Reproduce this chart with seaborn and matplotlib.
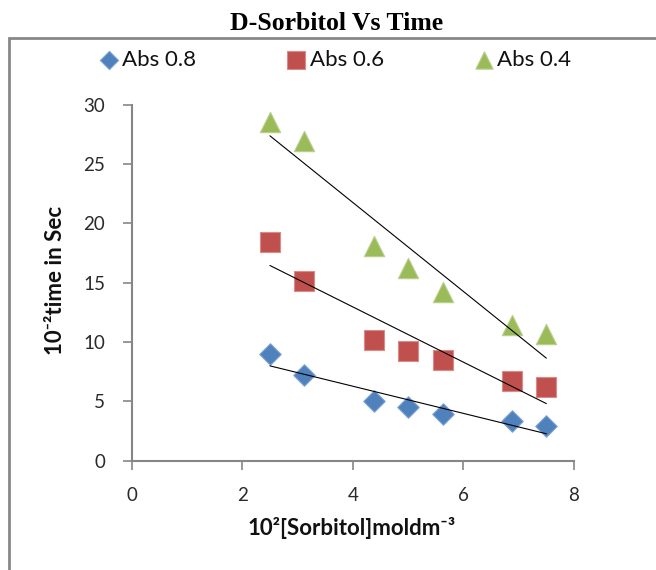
import numpy as np
import pandas as pd
import matplotlib
matplotlib.use("Agg")
import matplotlib.pyplot as plt
import matplotlib.patches as patches
import seaborn as sns

# ---- data ----
conc = [2.5, 3.125, 4.375, 5.0, 5.625, 6.875, 7.5]
abs08 = [9.0, 7.2, 5.0, 4.5, 3.9, 3.3, 2.9]
abs06 = [18.4, 15.1, 10.15, 9.25, 8.5, 6.7, 6.2]
abs04 = [28.5, 26.9, 18.1, 16.2, 14.2, 11.4, 10.65]
series_names = ["Abs 0.8", "Abs 0.6", "Abs 0.4"]
x_ticks = [0, 2, 4, 6, 8]
y_ticks = [0, 5, 10, 15, 20, 25, 30]

sns.set_theme(style="white")
SANS = ["Lato", "DejaVu Sans"]
plt.rcParams["font.family"] = SANS

fig = plt.figure(figsize=(6.56, 5.70), dpi=100)
W, H = 656, 570
ax = fig.add_axes([131.7 / W, 1 - 460.5 / H, (574 - 131.7) / W, (460.5 - 104.5) / H])

colors = ["#4F81BD", "#C0504D", "#9BBB59"]
edges = ["#7EA3D3", "#D98B89", "#B8D08E"]
markers = ["D", "s", "^"]
sizes = [120, 215, 215]

for name, vals, c, ec, m, s in zip(series_names, [abs08, abs06, abs04], colors, edges, markers, sizes):
    df = pd.DataFrame({"conc": conc, "time": vals})
    sns.scatterplot(data=df, x="conc", y="time", ax=ax, marker=m, s=s,
                    color=c, edgecolor=ec, linewidth=0.8, label=name, legend=False, zorder=3)
    sns.regplot(data=df, x="conc", y="time", ax=ax, scatter=False, ci=None,
                truncate=True, line_kws={"color": "black", "lw": 0.8, "zorder": 4})

ax.set_xlim(0, 8)
ax.set_ylim(0, 30)
ax.set_xticks(x_ticks)
ax.set_yticks(y_ticks)
ax.set_xlabel("")
ax.set_ylabel("")
for sp in ["top", "right"]:
    ax.spines[sp].set_visible(False)
for sp in ["left", "bottom"]:
    ax.spines[sp].set_color("#868686")
    ax.spines[sp].set_linewidth(1.5)
ax.tick_params(axis="both", which="major", direction="out", length=6.5, width=1.2,
               color="#868686", labelsize=13.5, labelcolor="#2a2a2a", pad=12.5)
ax.tick_params(axis="x", bottom=True)
ax.tick_params(axis="y", left=True)
ax.grid(False)

# axis labels
fig.text(56 / W, 1 - 280 / H, "10⁻²time in Sec", rotation=90, ha="center", va="center",
         fontsize=16, fontweight="bold", color="#111111", family=SANS)
fig.text(352 / W, 1 - 528 / H, "10²[Sorbitol]moldm⁻³", ha="center", va="center",
         fontsize=16, fontweight="bold", color="#111111", family=SANS)

# title
fig.text(337 / W, 1 - 24 / H, "D-Sorbitol Vs Time", ha="center", va="center",
         fontsize=18.5, fontweight="bold", family="Liberation Serif", color="black")

# outer chart frame (clipped on right and bottom as in the reference)
frame = patches.Rectangle((8.5 / W, -0.2), 2.0, (570 - 38) / H + 0.2,
                          transform=fig.transFigure, fill=False,
                          edgecolor="#878787", linewidth=2.0)
fig.patches.append(frame)

# legend
handles, labels = ax.get_legend_handles_labels()
leg = fig.legend(handles, labels, loc="center left", bbox_to_anchor=(100 / W, 1 - 60 / H),
                 ncol=3, frameon=False, fontsize=16, handlelength=0.8, handletextpad=0.2,
                 columnspacing=4.1, borderpad=0, borderaxespad=0, markerscale=0.85)
for t in leg.get_texts():
    t.set_color("#111111")

fig.savefig("out.png", dpi=100)
